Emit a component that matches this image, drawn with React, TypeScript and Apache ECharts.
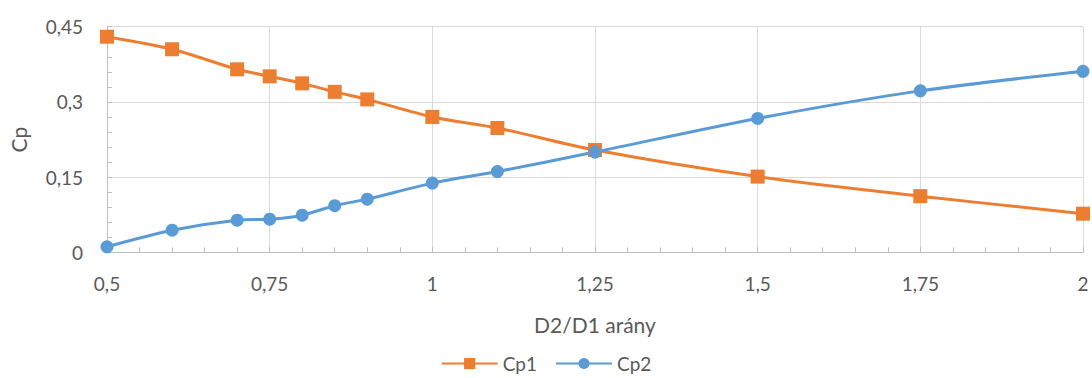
import React, { useEffect, useRef } from "react";
import * as echarts from "echarts";

const ratios = [0.5, 0.6, 0.7, 0.75, 0.8, 0.85, 0.9, 1, 1.1, 1.25, 1.5, 1.75, 2];
const cp1 = [0.43, 0.405, 0.365, 0.351, 0.337, 0.32, 0.305, 0.27, 0.248, 0.204, 0.151, 0.112, 0.077];
const cp2 = [0.011, 0.044, 0.064, 0.066, 0.074, 0.093, 0.106, 0.138, 0.161, 0.2, 0.267, 0.322, 0.361];

const FONT = "Lato, 'Open Sans', sans-serif";
const TEXT = "#595959";

const fmt = (v: number) => String(Math.round(v * 100) / 100).replace(".", ",");

export default function App() {
  const ref = useRef<HTMLDivElement>(null);
  useEffect(() => {
    document.body.style.margin = "0";
    const chart = echarts.init(ref.current!, null, { renderer: "svg" });
    const pair = (ys: number[]) => ratios.map((x, i) => [x, ys[i]]);
    chart.setOption({
      animation: false,
      textStyle: { fontFamily: FONT },
      grid: { left: 107, right: 9, top: 26.7, bottom: 125.7 },
      legend: {
        bottom: 0,
        left: "center",
        itemWidth: 56,
        itemHeight: 14,
        itemGap: 18,
        textStyle: { fontSize: 19, color: TEXT, fontFamily: FONT },
        data: ["Cp1", "Cp2"],
      },
      xAxis: {
        type: "value",
        min: 0.5,
        max: 2,
        interval: 0.25,
        name: "D2/D1 arány",
        nameLocation: "middle",
        nameGap: 62,
        nameTextStyle: { fontSize: 21, color: TEXT, fontFamily: FONT },
        axisLine: { show: true, lineStyle: { color: "#bfbfbf", width: 1 } },
        axisTick: { show: true, inside: true, length: 5, lineStyle: { color: "#bfbfbf" } },
        minorTick: { show: true, splitNumber: 5, length: 5, lineStyle: { color: "#bfbfbf" } },
        axisLabel: { formatter: fmt, fontSize: 19, color: TEXT, margin: 22, fontFamily: FONT },
        splitLine: { show: true, lineStyle: { color: "#d9d9d9", width: 1 } },
      },
      yAxis: {
        type: "value",
        min: 0,
        max: 0.45,
        interval: 0.15,
        name: "Cp",
        nameLocation: "middle",
        nameGap: 78,
        nameRotate: 90,
        nameTextStyle: { fontSize: 21, color: TEXT, fontFamily: FONT },
        axisLine: { show: true, lineStyle: { color: "#bfbfbf", width: 1 } },
        axisTick: { show: true, inside: true, length: 5, lineStyle: { color: "#bfbfbf" } },
        minorTick: { show: true, splitNumber: 5, length: 5, lineStyle: { color: "#bfbfbf" } },
        axisLabel: { formatter: fmt, fontSize: 19, color: TEXT, margin: 24, fontFamily: FONT },
        splitLine: { show: true, lineStyle: { color: "#d9d9d9", width: 1 } },
      },
      series: [
        {
          name: "Cp1",
          type: "line",
          data: pair(cp1),
          smooth: 0.3,
          symbol: "rect",
          symbolSize: 14,
          lineStyle: { color: "#ed7d31", width: 3 },
          itemStyle: { color: "#ed7d31" },
        },
        {
          name: "Cp2",
          type: "line",
          data: pair(cp2),
          smooth: 0.3,
          symbol: "circle",
          symbolSize: 13,
          lineStyle: { color: "#5b9bd5", width: 3 },
          itemStyle: { color: "#5b9bd5" },
        },
      ],
    });
    return () => chart.dispose();
  }, []);
  return <div ref={ref} style={{ width: 1092, height: 378 }} />;
}
